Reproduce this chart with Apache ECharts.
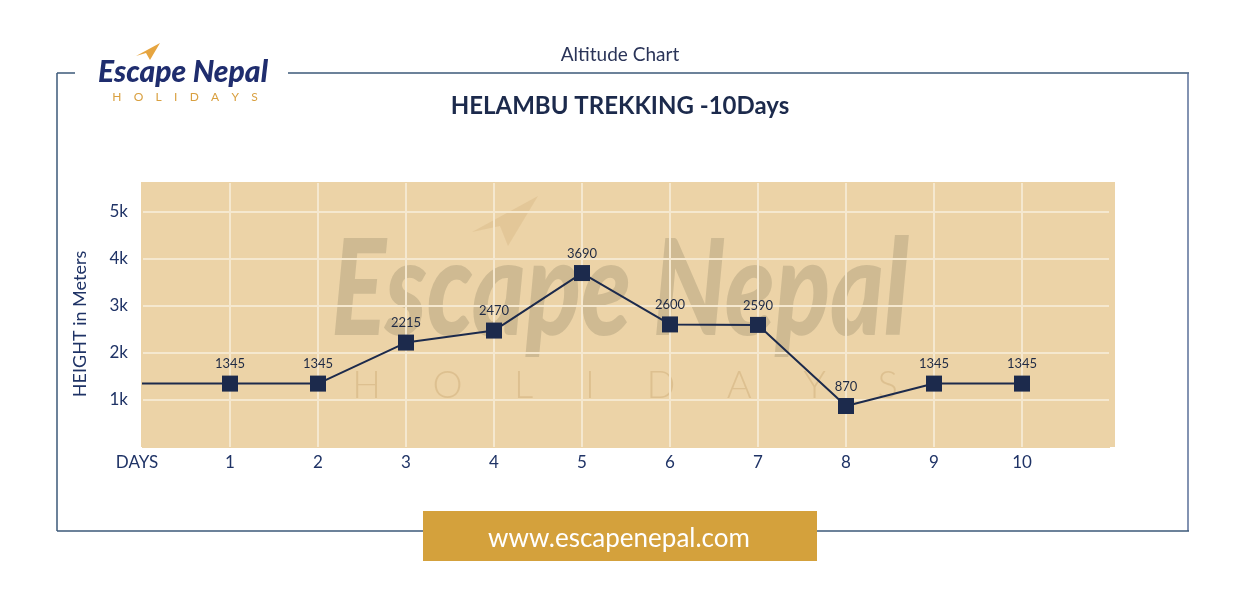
<!DOCTYPE html>
<html>
<head>
<meta charset="utf-8">
<script src="https://cdn.jsdelivr.net/npm/echarts@6/dist/echarts.min.js"></script>
<style>
html,body{margin:0;padding:0;background:#fff;}
#chart{width:1240px;height:598px;}
</style>
</head>
<body>
<div id="chart"></div>
<script>
// ---- data ----
const days = ['DAYS', '1', '2', '3', '4', '5', '6', '7', '8', '9', '10', ''];
const heights = [1345, 1345, 1345, 2215, 2470, 3690, 2600, 2590, 870, 1345, 1345, null];
const yTickLabels = ['', '1k', '2k', '3k', '4k', '5k'];
const chartTitle = 'HELAMBU TREKKING -10Days';
const headerText = 'Altitude Chart';
const yAxisTitle = 'HEIGHT in Meters';
const siteText = 'www.escapenepal.com';

const navy = '#1c2a4c';
const axisText = '#1f3366';
const frame = '#3b5878';
const gold = '#d4a13c';
const tan = '#ecd3a7';
const gridC = '#f5e8cf';

const seriesData = heights.map((v, i) => i === 0
  ? { value: v, symbol: 'none', label: { show: false } }
  : { value: v });
const xData = days.map((d, i) => i === 0 ? { value: d, textStyle: { padding: [0, 10, 0, 0] } } : d);

const chart = echarts.init(document.getElementById('chart'));
const font = 'Lato, "Open Sans", sans-serif';

chart.setOption({
  backgroundColor: '#ffffff',
  animation: false,
  grid: { left: 142, right: 130, top: 183, bottom: 151, show: false },
  xAxis: {
    type: 'category', data: xData, boundaryGap: false, z: 2,
    axisLine: { show: false }, axisTick: { show: false },
    axisLabel: { color: axisText, fontSize: 17, fontFamily: font, margin: 7, interval: 0 },
    splitLine: { show: true, lineStyle: { color: [tan, gridC, gridC, gridC, gridC, gridC, gridC, gridC, gridC, gridC, gridC, tan], width: 2 } }
  },
  yAxis: {
    type: 'value', min: 0, max: 5600, interval: 1000, z: 2,
    axisLine: { show: false }, axisTick: { show: false },
    axisLabel: {
      color: axisText, fontSize: 17, fontFamily: font, margin: 14,
      formatter: v => yTickLabels[Math.round(v / 1000)] || ''
    },
    splitLine: { show: true, lineStyle: { color: [tan, gridC, gridC, gridC, gridC, gridC, tan], width: 2 } }
  },
  series: [{
    type: 'line', data: seriesData, z: 5,
    symbol: 'rect', symbolSize: 16,
    lineStyle: { color: navy, width: 2 },
    itemStyle: { color: navy },
    label: { show: true, position: 'top', distance: 5, color: '#1f2a44', fontSize: 13, fontFamily: font }
  }],
  graphic: [
    // plot background
    { type: 'rect', z: 0, silent: true, shape: { x: 141, y: 182, width: 974, height: 265 }, style: { fill: tan } },
    // watermark (inside plot)
    { type: 'text', z: 1, silent: true, x: 620, y: 292, scaleY: 1.3, style: { text: 'Escape Nepal', x: 0, y: 0, textAlign: 'center', textVerticalAlign: 'middle', font: 'italic 900 102px Lato, sans-serif', fill: 'rgba(140,130,100,0.30)' } },
    { type: 'text', z: 1, silent: true, style: { text: 'H     O     L     I     D     A     Y     S', x: 625, y: 386, textAlign: 'center', textVerticalAlign: 'middle', font: '300 38px Lato, sans-serif', fill: 'rgba(200,165,110,0.40)' } },
    { type: 'polygon', z: 1, silent: true, shape: { points: [[472, 232], [538, 196], [508, 246], [500, 226]] }, style: { fill: 'rgba(220,190,140,0.55)' } },
    // header
    { type: 'text', style: { text: headerText, x: 620, y: 55, textAlign: 'center', textVerticalAlign: 'middle', font: '19px Lato, sans-serif', fill: '#2a3458' } },
    { type: 'text', style: { text: chartTitle, x: 620, y: 106, textAlign: 'center', textVerticalAlign: 'middle', font: 'bold 24px Lato, sans-serif', fill: navy } },
    // y axis title
    { type: 'text', rotation: Math.PI / 2, x: 80, y: 324, style: { text: yAxisTitle, x: 0, y: 0, textAlign: 'center', textVerticalAlign: 'middle', font: '18px Lato, sans-serif', fill: axisText } },
    // frame
    { type: 'line', shape: { x1: 57, y1: 73, x2: 75, y2: 73 }, style: { stroke: frame, lineWidth: 1.5 } },
    { type: 'line', shape: { x1: 288, y1: 73, x2: 1189, y2: 73 }, style: { stroke: frame, lineWidth: 1.5 } },
    { type: 'line', shape: { x1: 57, y1: 73, x2: 57, y2: 531 }, style: { stroke: frame, lineWidth: 1.5 } },
    { type: 'line', shape: { x1: 1188, y1: 73, x2: 1188, y2: 531 }, style: { stroke: '#5a6f98', lineWidth: 1.5 } },
    { type: 'line', shape: { x1: 57, y1: 531, x2: 423, y2: 531 }, style: { stroke: frame, lineWidth: 1.5 } },
    { type: 'line', shape: { x1: 817, y1: 531, x2: 1189, y2: 531 }, style: { stroke: frame, lineWidth: 1.5 } },
    // website box
    { type: 'rect', shape: { x: 423, y: 511, width: 394, height: 50 }, style: { fill: gold } },
    { type: 'text', style: { text: siteText, x: 619, y: 539, textAlign: 'center', textVerticalAlign: 'middle', font: '26px Lato, sans-serif', fill: '#ffffff' } },
    // logo
    { type: 'text', style: { text: 'Escape Nepal', x: 183, y: 72, textAlign: 'center', textVerticalAlign: 'middle', font: 'italic 900 30px Lato, sans-serif', fill: '#1f2d6e' } },
    { type: 'text', style: { text: 'H    O    L    I    D    A    Y    S', x: 185, y: 97, textAlign: 'center', textVerticalAlign: 'middle', font: '12px Lato, sans-serif', fill: '#d9a040' } },
    { type: 'polygon', shape: { points: [[136, 56], [160, 43], [150, 60], [146, 53]] }, style: { fill: '#e6a540' } }
  ]
});
</script>
</body>
</html>
